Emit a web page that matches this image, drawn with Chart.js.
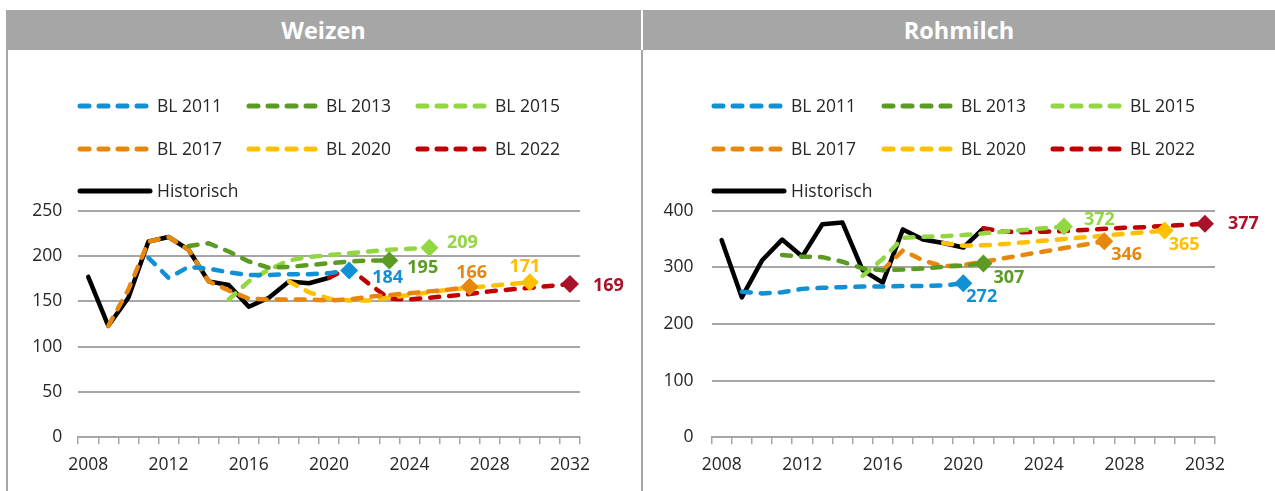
<!DOCTYPE html>
<html>
<head>
<meta charset="utf-8">
<script src="https://cdn.jsdelivr.net/npm/chart.js@4.4.1/dist/chart.umd.min.js"></script>
<style>
  body { margin: 0; background: #fff; width: 1275px; height: 491px; position: relative; overflow: hidden; font-family: 'Open Sans', sans-serif; }
  .head { position: absolute; top: 10px; height: 40px; background: #a6a6a6; color: #fff; font-weight: bold; font-size: 23.5px; line-height: 40px; text-align: center; }
  .edge { position: absolute; top: 50px; width: 2px; height: 441px; background: #a6a6a6; }
  canvas { position: absolute; top: 50px; }
</style>
</head>
<body>
<div class="head" style="left:6px;width:635px">Weizen</div>
<div class="head" style="left:643px;width:632px">Rohmilch</div>
<div class="edge" style="left:6px"></div>
<div class="edge" style="left:641px"></div>
<canvas id="weizenChart" width="633" height="441" style="left:8px"></canvas>
<canvas id="milchChart" width="632" height="441" style="left:643px"></canvas>
<script>
// Jahre (Kategorien)
const years = [2008, 2009, 2010, 2011, 2012, 2013, 2014, 2015, 2016, 2017, 2018, 2019, 2020,
               2021, 2022, 2023, 2024, 2025, 2026, 2027, 2028, 2029, 2030, 2031, 2032];
const seriesNames = ['BL 2011', 'BL 2013', 'BL 2015', 'BL 2017', 'BL 2020', 'BL 2022', 'Historisch'];
// Startjahr jeder Reihe
const weizenStart = [2011, 2013, 2015, 2009, 2018, 2020, 2008];
const milchStart = [2009, 2011, 2015, 2016, 2019, 2021, 2008];

// Weizen
const weizenBL2011 = [198, 176, 188, 186, 182, 179, 179, 180, 180, 181, 184];
const weizenBL2013 = [211, 214, 205, 194, 187, 188, 190, 192, 194, 195, 195];
const weizenBL2015 = [152, 172, 185, 195, 199, 201, 203, 205, 207, 208, 209];
const weizenBL2017 = [123, 163, 216, 221, 207, 172, 162, 153, 152, 152, 152, 151, 152, 155, 157, 159, 161, 163, 166];
const weizenBL2020 = [172, 160, 153, 151, 151, 154, 157, 160, 163, 165, 167, 169, 171];
const weizenBL2022 = [176, 187, 169, 153, 152, 154, 156, 158, 161, 163, 165, 167, 169];
const weizenHist = [177, 123, 154, 216, 221, 207, 172, 168, 144, 154, 172, 170, 176];

// Rohmilch
const milchBL2011 = [257, 254, 256, 262, 264, 265, 266, 266, 267, 267, 268, 272];
const milchBL2013 = [322, 319, 318, 310, 298, 295, 296, 298, 301, 303, 307];
const milchBL2015 = [285, 315, 352, 354, 355, 357, 360, 363, 366, 369, 372];
const milchBL2017 = [295, 330, 312, 302, 304, 310, 316, 322, 328, 334, 340, 346];
const milchBL2020 = [343, 338, 339, 341, 344, 347, 350, 353, 356, 359, 362, 365];
const milchBL2022 = [369, 363, 362, 363, 364, 366, 368, 370, 371, 373, 375, 377];
const milchHist = [348, 247, 312, 349, 319, 376, 379, 295, 273, 367, 349, 343, 335, 369];

const weizenTicks = [0, 50, 100, 150, 200, 250];
const milchTicks = [0, 100, 200, 300, 400];

const lineColors = ['#1090d5', '#5b9a23', '#92d742', '#e8870e', '#ffc000', '#c00000', '#000000'];
const markColors = ['#1090d5', '#5b9a23', '#92d742', '#e8870e', '#ffc000', '#a8122a', '#000000'];
const gridGray = '#a6a6a6';
const textDark = '#262626';

Chart.defaults.font.family = "'Open Sans', sans-serif";

function fromYear(start, values) {
    const arr = new Array(start - years[0]).fill(null);
    return arr.concat(values);
}

// Legende + Endwerte direkt auf der Leinwand
const panelDeco = {
    id: 'panelDeco',
    afterDatasetsDraw(chart, args, opts) {
        const ctx = chart.ctx;
        ctx.save();
        ctx.textBaseline = 'middle';
        ctx.font = 'bold 18px "Open Sans"';
        chart.data.datasets.forEach((ds, i) => {
            const lab = opts.labels[i];
            if (!lab) return;
            const last = ds.data.length - 1;
            const pt = chart.getDatasetMeta(i).data[last];
            ctx.fillStyle = markColors[i];
            ctx.textAlign = lab.align;
            ctx.fillText(String(ds.data[last]), pt.x + lab.dx, pt.y + lab.dy);
        });

        ctx.font = '17.5px "Open Sans"';
        ctx.textAlign = 'left';
        chart.data.datasets.forEach((ds, i) => {
            const x = opts.legendX[i % 3];
            const y = opts.legendY[Math.floor(i / 3)];
            ctx.strokeStyle = ds.borderColor;
            ctx.lineWidth = 5;
            ctx.lineCap = 'round';
            ctx.setLineDash(ds.borderDash || []);
            ctx.beginPath();
            ctx.moveTo(x, y);
            ctx.lineTo(x + 70, y);
            ctx.stroke();
            ctx.fillStyle = textDark;
            ctx.fillText(ds.label, x + 77, y + 1);
        });
        ctx.restore();
    }
};

function buildChart(id, sets, starts, yTicks, box, labels) {
    const datasets = sets.map((values, i) => {
        const hist = i === sets.length - 1;
        const data = fromYear(starts[i], values);
        return {
            label: seriesNames[i],
            data: data,
            borderColor: lineColors[i],
            backgroundColor: markColors[i],
            borderWidth: 4.5,
            borderDash: hist ? [] : [9, 10],
            borderCapStyle: 'round',
            borderJoinStyle: 'round',
            tension: 0,
            clip: false,
            pointStyle: 'rectRot',
            pointRadius: c => (!hist && c.dataIndex === data.length - 1) ? 9 : 0,
            pointBorderWidth: 0,
            pointBackgroundColor: markColors[i]
        };
    });
    return new Chart(document.getElementById(id), {
        type: 'line',
        data: { labels: years.map(String), datasets: datasets },
        options: {
            responsive: false,
            animation: false,
            events: [],
            layout: { padding: { left: 0, right: box.right, top: 160.7, bottom: 0 } },
            plugins: {
                legend: { display: false },
                tooltip: { enabled: false },
                panelDeco: { labels: labels, legendX: box.legendX, legendY: [56, 99, 141] }
            },
            scales: {
                x: {
                    offset: true,
                    afterFit: s => { s.height = 53.7; },
                    grid: { offset: true, drawOnChartArea: false, drawTicks: true, tickLength: 7, color: gridGray, lineWidth: 1.5 },
                    border: { display: true, color: gridGray, width: 2 },
                    ticks: {
                        autoSkip: false, maxRotation: 0, padding: 10,
                        color: textDark, font: { size: 17.5 },
                        callback: (v, idx) => (idx % 4 === 0 ? years[idx] : '')
                    }
                },
                y: {
                    min: yTicks[0],
                    max: yTicks[yTicks.length - 1],
                    afterFit: s => { s.width = box.left; },
                    afterBuildTicks: s => { s.ticks = yTicks.map(v => ({ value: v })); },
                    grid: { drawTicks: false, color: gridGray, lineWidth: 2 },
                    border: { display: false },
                    ticks: { padding: box.pad, color: textDark, font: { size: 17.5 } }
                }
            }
        },
        plugins: [panelDeco]
    });
}

buildChart('weizenChart',
    [weizenBL2011, weizenBL2013, weizenBL2015, weizenBL2017, weizenBL2020, weizenBL2022, weizenHist],
    weizenStart, weizenTicks,
    { left: 70.2, right: 61, pad: 16, legendX: [72, 241, 410] },
    [
        { align: 'left', dx: 23, dy: 7.5 },
        { align: 'left', dx: 18, dy: 7.5 },
        { align: 'left', dx: 17.5, dy: -5 },
        { align: 'center', dx: 2, dy: -14 },
        { align: 'center', dx: -5, dy: -15 },
        { align: 'left', dx: 23, dy: 2 }
    ]);

buildChart('milchChart',
    [milchBL2011, milchBL2013, milchBL2015, milchBL2017, milchBL2020, milchBL2022, milchHist],
    milchStart, milchTicks,
    { left: 68.6, right: 60, pad: 18, legendX: [71, 241, 410] },
    [
        { align: 'left', dx: 3, dy: 14 },
        { align: 'left', dx: 10, dy: 14 },
        { align: 'left', dx: 20, dy: -7 },
        { align: 'left', dx: 7, dy: 14 },
        { align: 'left', dx: 4, dy: 14 },
        { align: 'left', dx: 23, dy: 0 }
    ]);
</script>
</body>
</html>
